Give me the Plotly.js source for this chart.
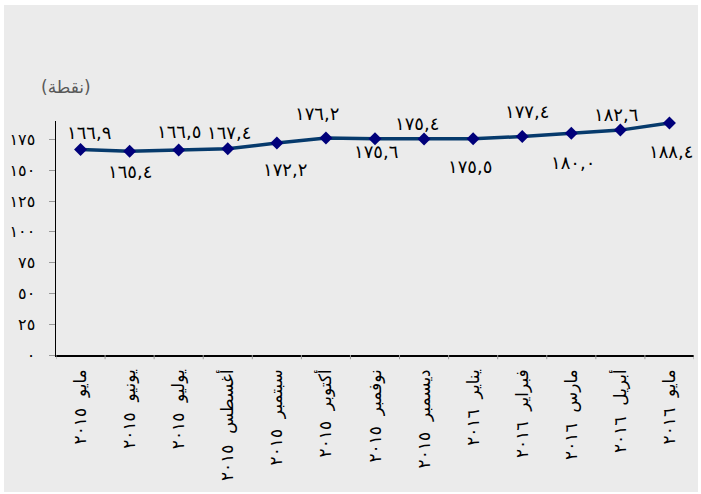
<!DOCTYPE html>
<html>
<head>
<meta charset="utf-8">
<script src="https://cdn.plot.ly/plotly-3.0.1.min.js"></script>
<style>
html,body{margin:0;padding:0;background:#ffffff;width:701px;height:494px;overflow:hidden;}
#chart{position:absolute;left:4px;top:5px;width:694px;height:487px;}
</style>
</head>
<body>
<div id="chart"></div>
<script>
// ---- data ----
var months = ["مايو","يونيو","يوليو","أغسطس","سبتمبر","أكتوبر","نوفمبر","ديسمبر","يناير","فبراير","مارس","أبريل","مايو"];
var years  = ["٢٠١٥","٢٠١٥","٢٠١٥","٢٠١٥","٢٠١٥","٢٠١٥","٢٠١٥","٢٠١٥","٢٠١٦","٢٠١٦","٢٠١٦","٢٠١٦","٢٠١٦"];
var values = [166.9,165.4,166.5,167.4,172.2,176.2,175.6,175.4,175.5,177.4,180.0,182.6,188.4];
var yTickVals = [0,25,50,75,100,125,150,175];
var unitLabel = "(نقطة)";

// ---- helpers ----
function toArabicDigits(s){
  var d = "٠١٢٣٤٥٦٧٨٩";
  return String(s).replace(/[0-9]/g, function(c){return d[+c];});
}
var categories = months.map(function(m,i){return m + "  " + years[i];});
var xIdx = categories.map(function(_,i){return i;});
var yTickText = yTickVals.map(toArabicDigits);

// label placement (layout style, pixels; positive dy = below the point)
var labelShift = [
  [8,-17],[0,20],[0,-18],[1,-16],[8,27],[-9,-25],[1,13],[-7,-15],[-3,28],[5,-25],[2,29],[-4,-16],[2,29]
];

var annotations = values.map(function(v,i){
  return {
    x: i, y: v, xref:'x', yref:'y',
    text: toArabicDigits(v.toFixed(1)).replace('.', ','),
    showarrow:false,
    xshift: labelShift[i][0], yshift: -labelShift[i][1],
    font:{family:"DejaVu Sans, sans-serif", size:18, color:"#000000"}
  };
});
annotations.push({
  xref:'paper', yref:'paper', x:0.016, y:1.145, xanchor:'center', yanchor:'middle',
  text: unitLabel, showarrow:false,
  font:{family:"DejaVu Sans, sans-serif", size:17, color:"#595959"}
});

var trace = {
  x: xIdx, y: values, type:'scatter', mode:'lines+markers',
  line:{color:'#063a6c', width:3.5},
  marker:{symbol:'diamond', size:10, color:'#00007a'},
  cliponaxis:false,
  hoverinfo:'skip'
};

var layout = {
  width:694, height:487,
  margin:{l:52, r:4, t:116, b:137},
  paper_bgcolor:'#ebebeb', plot_bgcolor:'rgba(0,0,0,0)',
  showlegend:false,
  xaxis:{
    type:'linear', range:[-0.5, 12.5],
    tickmode:'array', tickvals:xIdx, ticktext:categories,
    tickangle:-90,
    showgrid:false, zeroline:false,
    showline:true, linecolor:'#000000', linewidth:1.5,
    ticks:'', ticklabelstandoff:6,
    tickfont:{family:"DejaVu Sans, sans-serif", size:17, color:'#000000'}
  },
  yaxis:{
    range:[0,190],
    tickmode:'array', tickvals:yTickVals, ticktext:yTickText,
    showgrid:false, zeroline:false,
    showline:true, linecolor:'#000000', linewidth:1.5,
    ticks:'outside', ticklen:6, tickcolor:'#999999', tickwidth:1,
    ticklabelstandoff:10,
    tickfont:{family:"DejaVu Sans, sans-serif", size:16, color:'#000000'}
  },
  annotations: annotations,
  shapes: []
};

// boundary tick marks between categories (drawn on x axis scale)
for (var k=0;k<=13;k++){
  layout.shapes.push({type:'line', xref:'x', yref:'paper', x0:k-0.5, x1:k-0.5, y0:0, y1:-0.018,
    line:{color:'#999999', width:1}});
}

Plotly.newPlot('chart',[trace],layout,{displayModeBar:false, staticPlot:true});
</script>
</body>
</html>
